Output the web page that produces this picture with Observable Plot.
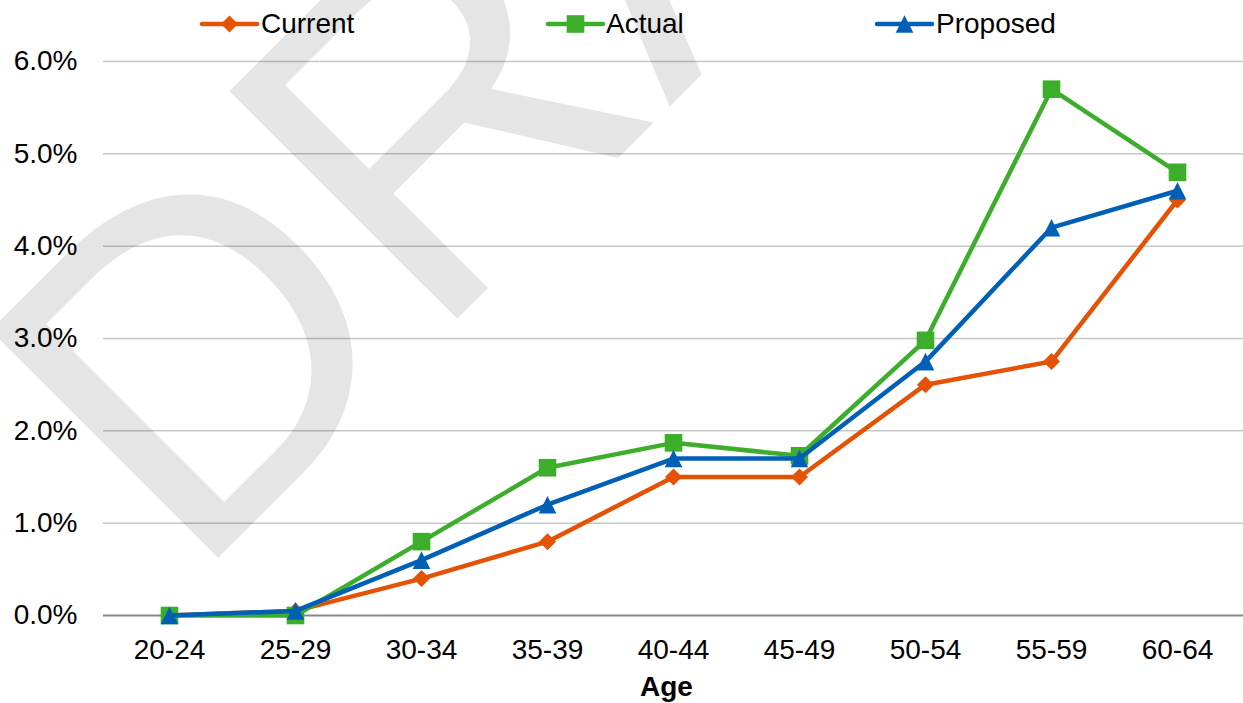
<!DOCTYPE html>
<html>
<head>
<meta charset="utf-8">
<script src="https://cdn.jsdelivr.net/npm/d3@7"></script>
<script src="https://cdn.jsdelivr.net/npm/@observablehq/plot@0.6"></script>
<style>
  html, body { margin: 0; padding: 0; background: #fff; }
  #wrap { position: relative; width: 1243px; height: 703px; overflow: hidden; }
  #legend { position: absolute; left: 0; top: 0; pointer-events: none; }
</style>
</head>
<body>
<div id="wrap"></div>
<script>
// ---- data ----
const ages = ["20-24", "25-29", "30-34", "35-39", "40-44", "45-49", "50-54", "55-59", "60-64"];
const seriesNames = ["Current", "Actual", "Proposed"];
const currentValues  = [0, 0.05, 0.4, 0.8, 1.5, 1.5, 2.5, 2.75, 4.5];
const actualValues   = [0, 0.0, 0.8, 1.6, 1.87, 1.73, 2.98, 5.7, 4.8];
const proposedValues = [0, 0.05, 0.6, 1.2, 1.7, 1.7, 2.75, 4.2, 4.6];
const yTicks = [0, 1, 2, 3, 4, 5, 6];
const xLabel = "Age";
const watermarkText = "DRAFT";

// ---- styles ----
const colors = {Current: "#E35205", Actual: "#3DAE2B", Proposed: "#0060B6"};
const FONT = "'Liberation Sans', Arial, Helvetica, sans-serif";

const diamondSym = {draw(ctx, size) { const h = Math.sqrt(size / Math.PI); ctx.moveTo(0, -h); ctx.lineTo(h, 0); ctx.lineTo(0, h); ctx.lineTo(-h, 0); ctx.closePath(); }};
const squareSym  = {draw(ctx, size) { const h = Math.sqrt(size / Math.PI); ctx.rect(-h, -h, 2 * h, 2 * h); }};
const triSym     = {draw(ctx, size) { const h = Math.sqrt(size / Math.PI); ctx.moveTo(0, -h); ctx.lineTo(h, h); ctx.lineTo(-h, h); ctx.closePath(); }};
const symbols = {Current: diamondSym, Actual: squareSym, Proposed: triSym};
const radii = {Current: 8.5, Actual: 8.8, Proposed: 8.8};

const valuesBy = {Current: currentValues, Actual: actualValues, Proposed: proposedValues};
const rows = seriesNames.flatMap(s => ages.map((a, i) => ({series: s, age: a, value: valuesBy[s][i]})));

const W = 1243, H = 703;
const seriesMarks = seriesNames.flatMap(s => {
  const d = rows.filter(r => r.series === s);
  return [
    Plot.line(d, {x: "age", y: "value", stroke: colors[s], strokeWidth: 4.5, strokeLinejoin: "round"}),
    Plot.dot(d, {x: "age", y: "value", fill: colors[s], stroke: "none", r: radii[s], symbol: symbols[s]})
  ];
});

const yFmt = d => d.toFixed(1) + "%";
const hasAxisMarks = typeof Plot.axisX === "function";
const axisMarks = hasAxisMarks
  ? [
      Plot.axisY(yTicks, {tickSize: 0, tickPadding: 26, tickFormat: yFmt, label: null, fontSize: 28, fontFamily: FONT, fill: "#000"}),
      Plot.axisX({tickSize: 0, tickPadding: 24, label: null, fontSize: 28, fontFamily: FONT, fill: "#000"})
    ]
  : [
      Plot.text(yTicks, {y: d => d, text: yFmt, frameAnchor: "left", dx: -26, textAnchor: "end", fontSize: 28, fontFamily: FONT, fill: "#000"}),
      Plot.text(ages, {x: d => d, text: d => d, frameAnchor: "bottom", dy: 24, lineAnchor: "top", fontSize: 28, fontFamily: FONT, fill: "#000"})
    ];

const chart = Plot.plot({
  width: W,
  height: H,
  marginLeft: 103,
  marginRight: 0,
  marginTop: 61,
  marginBottom: 88,
  style: {fontSize: "28px", fontFamily: FONT, color: "#000", background: "#fff"},
  x: {type: "point", domain: ages, padding: 0.5, label: null, tickSize: 0, tickPadding: 24, axis: hasAxisMarks ? undefined : null},
  y: {domain: [0, 6], ticks: yTicks, tickFormat: yFmt, label: null, tickSize: 0, tickPadding: 26, axis: hasAxisMarks ? undefined : null},
  marks: [
    Plot.text([watermarkText], {text: d => d, frameAnchor: "top-left", dx: 87.5, dy: 523.5, rotate: -45,
      fontSize: 468, fontFamily: FONT, fill: "#e5e5e5", textAnchor: "start", lineAnchor: "bottom"}),
    Plot.ruleY(yTicks.filter(t => t !== 0), {stroke: "#000", strokeOpacity: 0.22, strokeWidth: 1.5}),
    Plot.ruleY([0], {stroke: "#888", strokeWidth: 2}),
    ...axisMarks,
    ...seriesMarks,
    Plot.text([xLabel], {text: d => d, frameAnchor: "bottom", dx: -7, dy: 80, lineAnchor: "bottom",
      fontWeight: "bold", fontSize: 28, fontFamily: FONT, fill: "#000"})
  ]
});

const wrap = document.getElementById("wrap");
wrap.appendChild(chart);

// ---- legend (overlay at top) ----
const legendItems = [
  {name: "Current", x0: 202, x1: 257, tx: 261},
  {name: "Actual", x0: 548, x1: 603, tx: 606},
  {name: "Proposed", x0: 877, x1: 932, tx: 936}
];
const ns = "http://www.w3.org/2000/svg";
const leg = document.createElementNS(ns, "svg");
leg.setAttribute("id", "legend");
leg.setAttribute("width", W);
leg.setAttribute("height", 50);
legendItems.forEach(it => {
  const ly = 24;
  const line = document.createElementNS(ns, "line");
  line.setAttribute("x1", it.x0); line.setAttribute("x2", it.x1);
  line.setAttribute("y1", ly); line.setAttribute("y2", ly);
  line.setAttribute("stroke", colors[it.name]); line.setAttribute("stroke-width", 4.5);
  line.setAttribute("stroke-linecap", "round");
  leg.appendChild(line);
  const path = document.createElementNS(ns, "path");
  const r = radii[it.name];
  path.setAttribute("d", d3.symbol(symbols[it.name], Math.PI * r * r)());
  path.setAttribute("transform", `translate(${(it.x0 + it.x1) / 2},${ly})`);
  path.setAttribute("fill", colors[it.name]);
  leg.appendChild(path);
  const t = document.createElementNS(ns, "text");
  t.setAttribute("x", it.tx); t.setAttribute("y", 33);
  t.setAttribute("font-family", FONT); t.setAttribute("font-size", 28);
  t.setAttribute("fill", "#000");
  t.textContent = it.name;
  leg.appendChild(t);
});
wrap.appendChild(leg);
</script>
</body>
</html>
